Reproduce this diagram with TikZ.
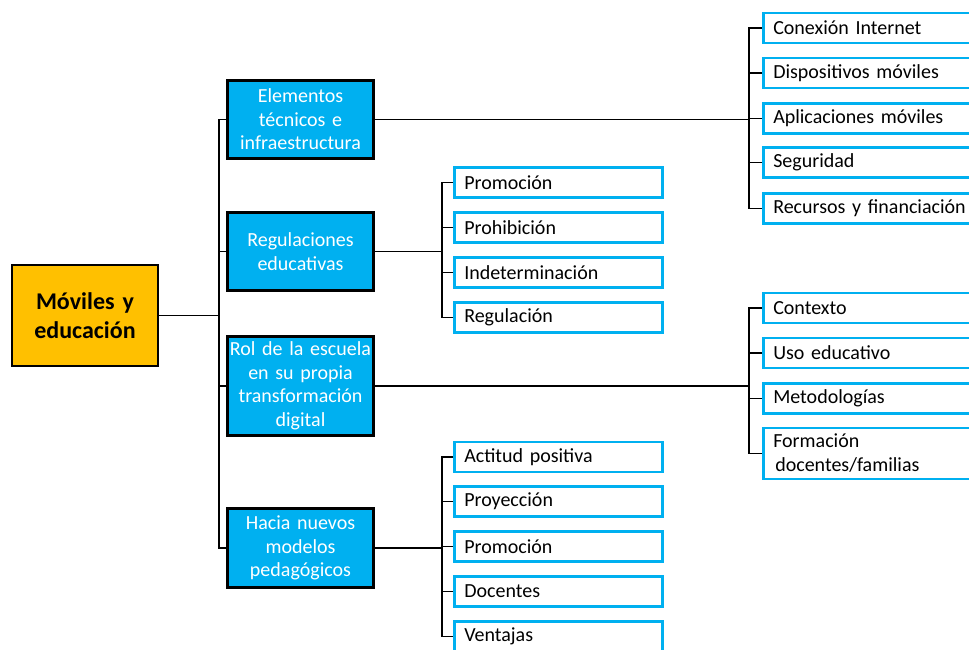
\documentclass[tikz,border=0pt]{standalone}
\usepackage{fontspec}
\setmainfont{Carlito}
\definecolor{mainorange}{HTML}{FFC000}
\definecolor{officeblue}{HTML}{00B0F0}
\begin{document}
\begin{tikzpicture}[x=1pt,y=-1pt,
  rootbox/.style={draw=black,line width=2pt,fill=mainorange,minimum width=146pt,minimum height=101pt,
    inner sep=0pt,text width=140pt,align=center,font=\fontsize{24}{28.5}\selectfont\bfseries},
  catbox/.style={draw=black,line width=2.4pt,fill=officeblue,text=white,minimum width=144pt,
    inner sep=0pt,text width=146pt,align=center,font=\fontsize{20}{23.5}\selectfont},
  leafbox/.style={draw=officeblue,line width=2.5pt,fill=white,anchor=west,minimum height=30pt,
    inner xsep=10pt,inner ysep=0pt,align=left,font=\fontsize{20}{24}\selectfont},
  midleaf/.style={leafbox,text width=188pt,minimum width=208pt},
  rightleaf/.style={leafbox,text width=210pt,minimum width=230pt},
  conn/.style={draw=black,line width=1.9pt}]
\useasboundingbox (0,0) rectangle (969,649);

% root
\node[rootbox] (root) at (85,315.5) {Móviles y\\educación};

% categories
\node[catbox,minimum height=78pt] (elem) at (300.5,119.5) {Elementos\\técnicos e\\infraestructura};
\node[catbox,minimum height=78pt] (regu) at (300.5,251.5) {Regulaciones\\educativas};
\node[catbox,minimum height=99pt] (rol) at (300.5,386) {Rol de la escuela\\en su propia\\transformación\\digital};
\node[catbox,minimum height=79pt] (hacia) at (300.5,548) {Hacia nuevos\\modelos\\pedagógicos};

% spines
\coordinate (sp0) at (219,0);
\coordinate (sp1) at (749,0);
\coordinate (sp2) at (442,0);

% right leaves for elem
\node[rightleaf] (e1) at (762,28) {Conexión Internet};
\node[rightleaf] (e2) at (762,73) {Dispositivos móviles};
\node[rightleaf] (e3) at (762,118.5) {Aplicaciones móviles};
\node[rightleaf] (e4) at (762,162.5) {Seguridad};
\node[rightleaf] (e5) at (762,208.5) {Recursos y financiación};

% mid leaves for regu
\node[midleaf] (r1) at (453,182.5) {Promoción};
\node[midleaf] (r2) at (453,227.5) {Prohibición};
\node[midleaf] (r3) at (453,272.5) {Indeterminación};
\node[midleaf] (r4) at (453,317.5) {Regulación};

% right leaves for rol
\node[rightleaf] (o1) at (762,308) {Contexto};
\node[rightleaf] (o2) at (762,353) {Uso educativo};
\node[rightleaf] (o3) at (762,398.5) {Metodologías};
\node[rightleaf,minimum height=51pt] (o4) at (762,453.5) {Formación\\\hspace*{2pt}docentes/familias};

% mid leaves for hacia
\node[midleaf] (h1) at (453,457) {Actitud positiva};
\node[midleaf] (h2) at (453,501.5) {Proyección};
\node[midleaf] (h3) at (453,546.5) {Promoción};
\node[midleaf] (h4) at (453,591.5) {Docentes};
\node[midleaf] (h5) at (453,636.5) {Ventajas};

% root connectors
\draw[conn] (root.east) -- (root.east -| sp0);
\draw[conn] (elem.west) -- (elem.west -| sp0) -- (hacia.west -| sp0) -- (hacia.west);
\draw[conn] (regu.west) -- (regu.west -| sp0);
\draw[conn] (rol.west) -- (rol.west -| sp0);

% elem connectors
\draw[conn] (elem.east) -- (elem.east -| sp1);
\draw[conn] (e1.west) -- (e1.west -| sp1) -- (e5.west -| sp1) -- (e5.west);
\foreach \n in {e2,e3,e4} \draw[conn] (\n.west) -- (\n.west -| sp1);

% regu connectors
\draw[conn] (regu.east) -- (regu.east -| sp2);
\draw[conn] (r1.west) -- (r1.west -| sp2) -- (r4.west -| sp2) -- (r4.west);
\foreach \n in {r2,r3} \draw[conn] (\n.west) -- (\n.west -| sp2);

% rol connectors
\draw[conn] (rol.east) -- (rol.east -| sp1);
\draw[conn] (o1.west) -- (o1.west -| sp1) -- (o4.west -| sp1) -- (o4.west);
\foreach \n in {o2,o3} \draw[conn] (\n.west) -- (\n.west -| sp1);

% hacia connectors
\draw[conn] (hacia.east) -- (hacia.east -| sp2);
\draw[conn] (h1.west) -- (h1.west -| sp2) -- (h5.west -| sp2) -- (h5.west);
\foreach \n in {h2,h3,h4} \draw[conn] (\n.west) -- (\n.west -| sp2);
\end{tikzpicture}
\end{document}
